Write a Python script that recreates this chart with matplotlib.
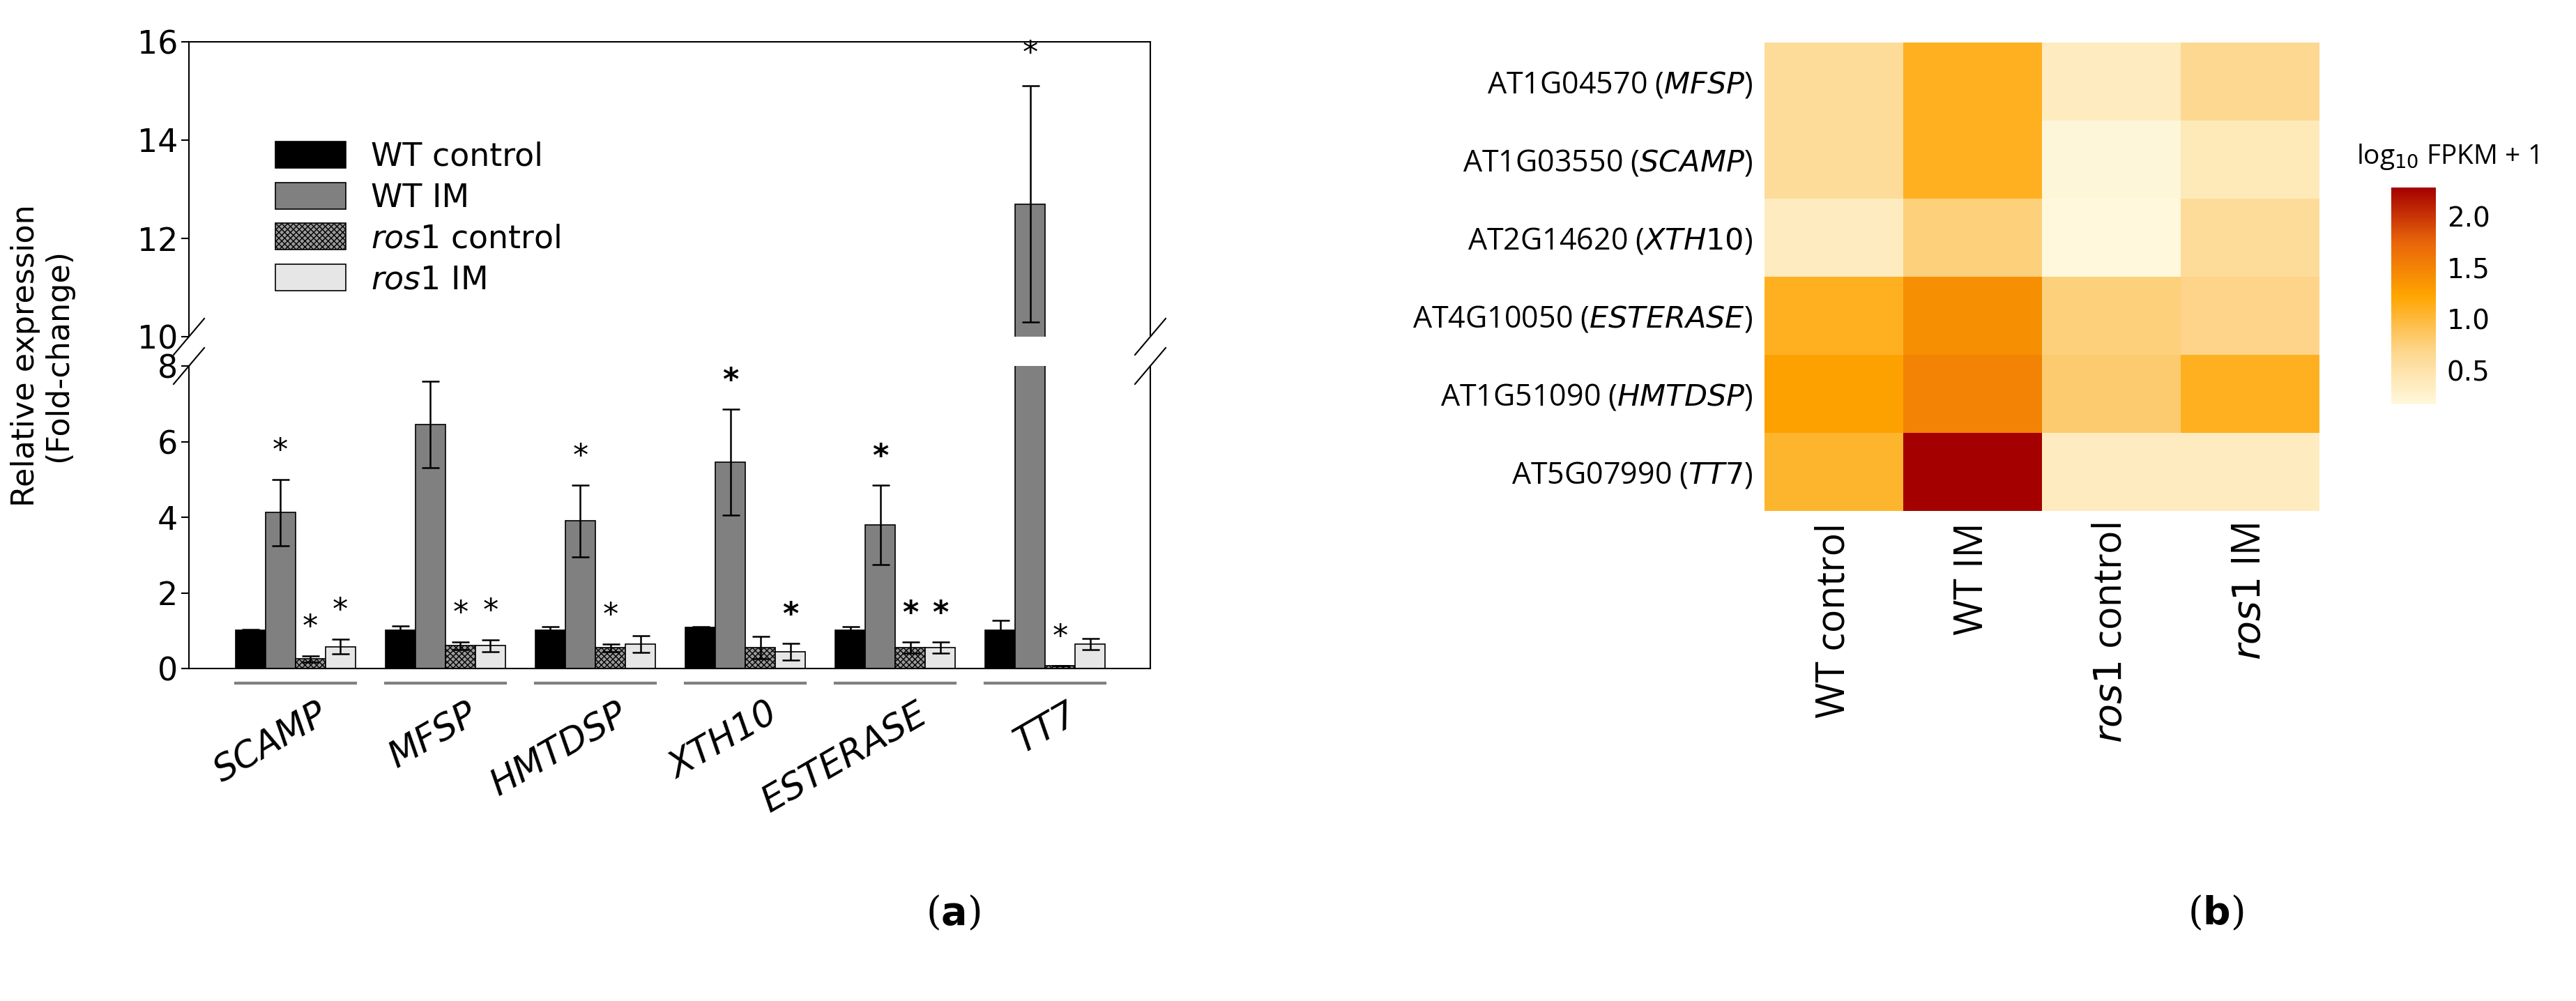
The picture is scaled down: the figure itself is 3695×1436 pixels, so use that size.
import matplotlib
matplotlib.use("Agg")
import matplotlib.pyplot as plt
import numpy as np
from matplotlib.colors import LinearSegmentedColormap

genes = ["SCAMP", "MFSP", "HMTDSP", "XTH10", "ESTERASE", "TT7"]
series = ["WT control", "WT IM", "ros1 control", "ros1 IM"]
wt_ctrl = [1.02, 1.02, 1.02, 1.08, 1.02, 1.02]
wt_ctrl_err = [0.02, 0.1, 0.08, 0.03, 0.08, 0.25]
wt_im = [4.12, 6.45, 3.9, 5.45, 3.8, 12.7]
wt_im_err = [0.88, 1.15, 0.95, 1.4, 1.05, 2.4]
ros_ctrl = [0.25, 0.6, 0.55, 0.55, 0.55, 0.08]
ros_ctrl_err = [0.08, 0.1, 0.1, 0.3, 0.15, 0.0]
ros_im = [0.58, 0.6, 0.65, 0.45, 0.55, 0.65]
ros_im_err = [0.2, 0.15, 0.22, 0.22, 0.15, 0.15]
stars = [[1, 2, 3], [1, 2, 3], [1, 2], [1, 3], [1, 2, 3], [1, 2]]

hm_ids = ["AT1G04570", "AT1G03550", "AT2G14620", "AT4G10050", "AT1G51090", "AT5G07990"]
hm_genes = ["MFSP", "SCAMP", "XTH10", "ESTERASE", "HMTDSP", "TT7"]
hm_vals = np.array([
    [0.6, 1.1, 0.35, 0.65],
    [0.6, 1.1, 0.2, 0.4],
    [0.35, 0.75, 0.15, 0.6],
    [1.1, 1.4, 0.75, 0.7],
    [1.25, 1.5, 0.8, 1.1],
    [1.05, 2.28, 0.35, 0.35],
])

plt.rcParams['hatch.color'] = '#333333'
W, H = 3695, 1436
fig = plt.figure(figsize=(W/100, H/100), dpi=100)
def ax_px(l, t, r, b):
    return fig.add_axes([l/W, 1-b/H, (r-l)/W, (b-t)/H])

axT = ax_px(271, 60, 1650, 483)
axB = ax_px(271, 525, 1650, 959)
axB.set_ylim(0, 8)
axT.set_ylim(10, 16)

vals = [wt_ctrl, wt_im, ros_ctrl, ros_im]
errs = [wt_ctrl_err, wt_im_err, ros_ctrl_err, ros_im_err]
faces = ["black", "#808080", "#9a9a9a", "#e6e6e6"]
hatches = [None, None, "xxxx", None]
bw = 0.2
x = np.arange(len(genes))
for ax in (axT, axB):
    lo, hi = ax.get_ylim()
    for i in range(4):
        pos = x + (i - 1.5) * bw
        ax.bar(pos, vals[i], bw, color=faces[i], edgecolor="black", linewidth=1.2,
               hatch=hatches[i], label=series[i] if ax is axT else None,
               yerr=errs[i], capsize=9, error_kw=dict(elinewidth=1.8, capthick=1.8))
    for g, sl in enumerate(stars):
        for i in sl:
            y = vals[i][g] + errs[i][g] + 0.35
            if lo <= y <= hi - 0.3:
                ax.text(x[g] + (i - 1.5) * bw, y, "*", ha="center", va="bottom",
                        fontsize=32, fontweight="bold" if g in (3, 4) else "normal")
    ax.set_xlim(-0.71, 5.70)
    ax.tick_params(axis="y", labelsize=33, width=1.5, length=8)
    for s in ax.spines.values():
        s.set_linewidth(1.5)

axB.set_ylim(0, 8)
axT.set_ylim(10, 16)
axB.set_yticks([0, 2, 4, 6, 8])
axT.set_yticks([10, 12, 14, 16])
axT.spines["bottom"].set_visible(False)
axB.spines["top"].set_visible(False)
axT.set_xticks([]); axB.set_xticks([])

for (xx, yy) in [(271, 483), (271, 525), (1650, 483), (1650, 525)]:
    fig.add_artist(plt.Line2D([(xx-22)/W, (xx+22)/W], [1-(yy+26)/H, 1-(yy-26)/H],
                              color="black", lw=1.5))

leg = axT.legend(loc="upper left", bbox_to_anchor=(0.06, 0.76), frameon=False,
                 fontsize=33, handlelength=2.2, handleheight=0.9, labelspacing=0.3)
texts = leg.get_texts()
texts[2].set_text(r"$\it{ros1}$ control")
texts[3].set_text(r"$\it{ros1}$ IM")

fig.text(60/W, 1-510/H, "Relative expression\n(Fold-change)", rotation=90,
         ha="center", va="center", fontsize=32, linespacing=1.1)

for g in range(len(genes)):
    p0 = axB.transData.transform((x[g] - 2*bw, 0))
    p1 = axB.transData.transform((x[g] + 2*bw, 0))
    fig.add_artist(plt.Line2D([p0[0]/W, p1[0]/W], [1-980/H, 1-980/H], color="#808080", lw=3))
    c = axB.transData.transform((x[g], 0))[0]
    fig.text((c + 30)/W, 1-1000/H, genes[g], rotation=30, ha="right", va="top",
             fontsize=37, style="italic", rotation_mode="anchor")

cmap = LinearSegmentedColormap.from_list("fpkm", ["#fff8dc", "#fdd58a", "#ffa500", "#e8650a", "#a50000"])
axH = ax_px(2531, 61, 3327, 733)
im = axH.imshow(hm_vals, cmap=cmap, vmin=0.17, vmax=2.28, aspect="auto")
axH.set_xticks(range(4))
axH.set_xticklabels(["WT control", "WT IM", r"$\it{ros1}$ control", r"$\it{ros1}$ IM"],
                    rotation=90, fontsize=40, family="Open Sans")
axH.set_yticks(range(6))
axH.set_yticklabels([f"{a} ($\\it{{{b}}}$)" for a, b in zip(hm_ids, hm_genes)], fontsize=31,
                    family="Open Sans")
axH.tick_params(length=0, pad=12)
for s in axH.spines.values():
    s.set_visible(False)

axC = ax_px(3430, 269, 3494, 580)
cb = fig.colorbar(im, cax=axC, ticks=[0.5, 1.0, 1.5, 2.0])
cb.outline.set_visible(False)
cb.ax.tick_params(labelsize=28, length=8, color="white", width=1.5)
fig.text(3380/W, 1-225/H, r"log$_{10}$ FPKM + 1", fontsize=28, ha="left", va="center",
         family="Open Sans")

fig.text(1367/W, 1-1310/H, r"($\bf{a}$)", fontsize=40, ha="center", va="center", family="DejaVu Serif")
fig.text(3178/W, 1-1310/H, r"($\bf{b}$)", fontsize=40, ha="center", va="center", family="DejaVu Serif")

fig.savefig("out.png", dpi=100, facecolor="white")
